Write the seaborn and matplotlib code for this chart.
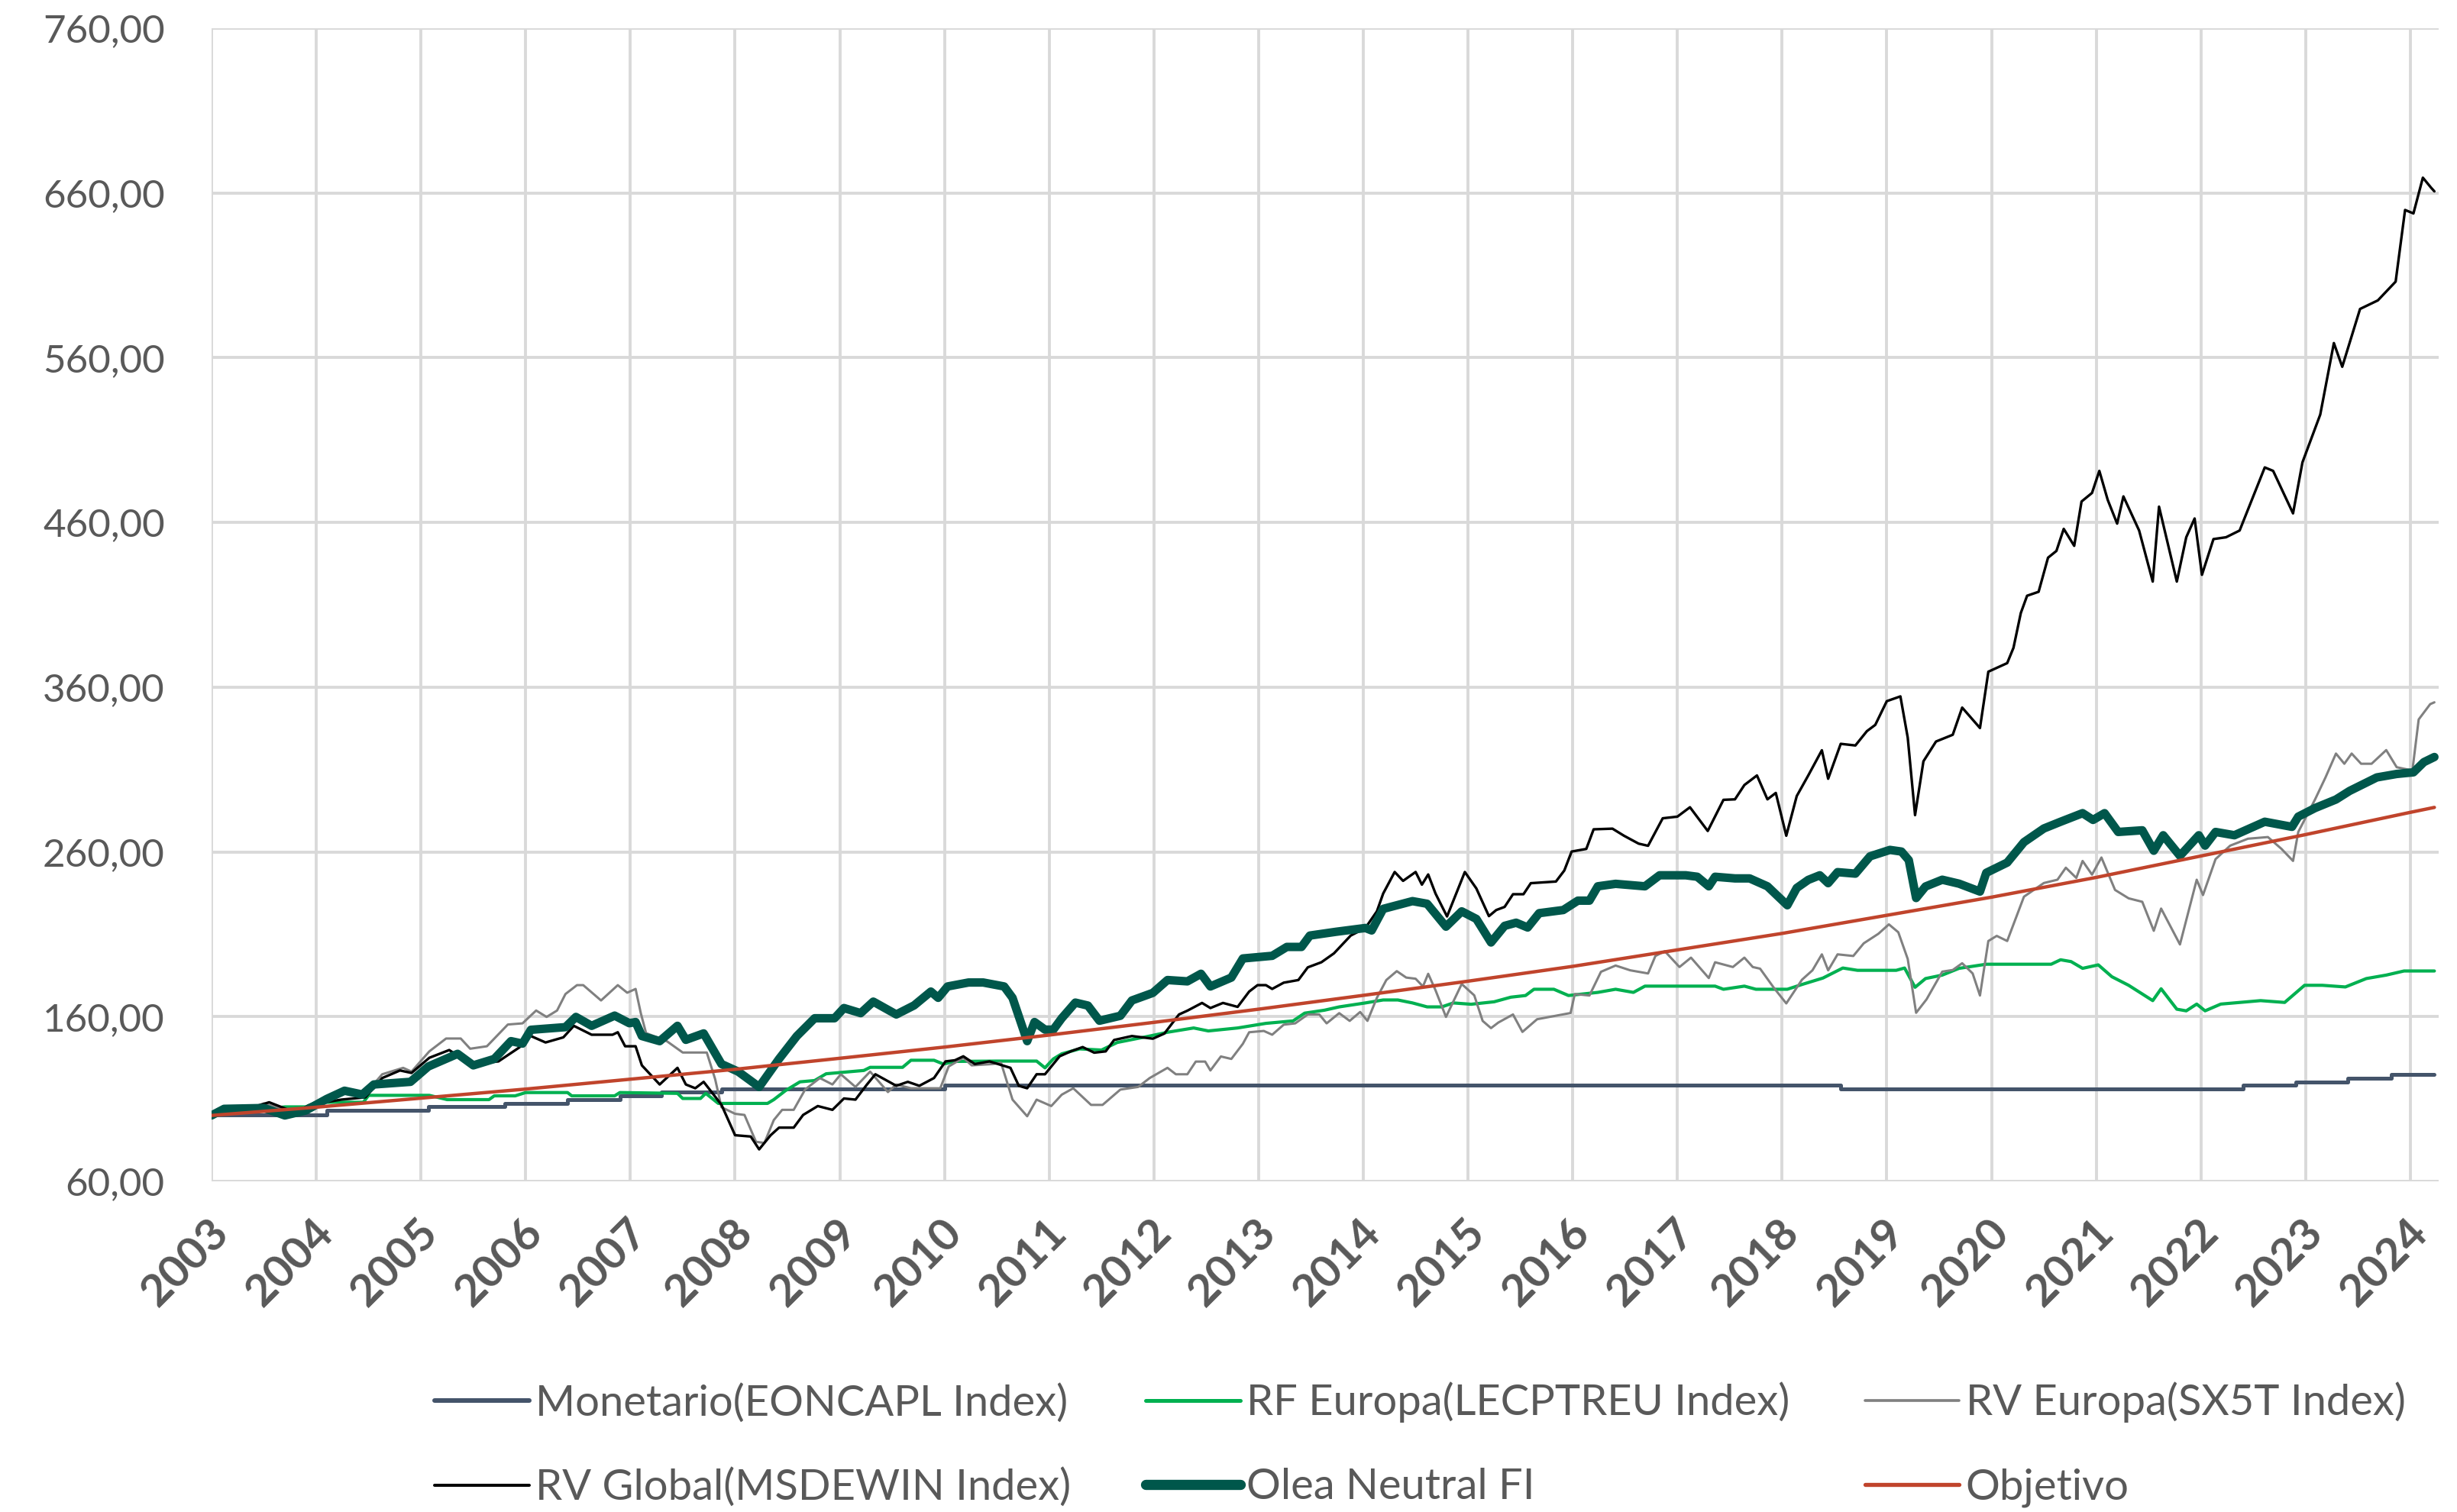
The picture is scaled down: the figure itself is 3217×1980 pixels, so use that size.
import matplotlib
matplotlib.use("Agg")
import matplotlib.pyplot as plt
import matplotlib.transforms as mtransforms
from matplotlib.lines import Line2D
import seaborn as sns

# ---------------- data ----------------
YEARS = list(range(2003, 2025))
Y_TICKS = [60, 160, 260, 360, 460, 560, 660, 760]

LABELS = ["Monetario(EONCAPL Index)", "RF Europa(LECPTREU Index)", "RV Europa(SX5T Index)",
          "RV Global(MSDEWIN Index)", "Olea Neutral FI", "Objetivo"]

MON_X = [2003.0, 2004.1, 2005.07, 2005.8, 2006.4, 2006.9, 2007.3, 2007.87, 2010.0,
         2018.56, 2022.4, 2022.91, 2023.4, 2023.82, 2024.23]
MON_Y = [100.5, 103.1, 105.2, 107.2, 109.6, 111.9, 114.2, 116.0, 118.2,
         116.0, 118.4, 120.4, 122.7, 124.8, 124.8]

RF_X = [2003.0, 2003.4, 2003.7, 2003.9, 2004.0, 2004.45, 2004.5, 2005.08, 2005.25, 2005.65,
        2005.7, 2005.9, 2006.0, 2006.4, 2006.44, 2006.85, 2006.9, 2007.45, 2007.5, 2007.67,
        2007.72, 2007.84, 2008.31, 2008.37, 2008.48, 2008.62, 2008.76, 2008.87, 2009.23, 2009.29,
        2009.6, 2009.68, 2009.9, 2009.99, 2010.1, 2010.5, 2010.88, 2010.96, 2011.04, 2011.12,
        2011.29, 2011.5, 2011.65, 2011.96, 2012.13, 2012.38, 2012.52, 2012.8, 2013.07, 2013.33,
        2013.44, 2013.63, 2013.77, 2014.02, 2014.19, 2014.33, 2014.47, 2014.61, 2014.75, 2014.86,
        2015.03, 2015.25, 2015.41, 2015.55, 2015.63, 2015.82, 2015.96, 2016.24, 2016.41, 2016.58,
        2016.69, 2017.36, 2017.44, 2017.64, 2017.75, 2018.05, 2018.19, 2018.39, 2018.58, 2018.72,
        2019.09, 2019.17, 2019.27, 2019.37, 2019.53, 2019.69, 2019.95, 2020.57, 2020.66, 2020.76,
        2020.87, 2021.02, 2021.15, 2021.31, 2021.54, 2021.62, 2021.77, 2021.86, 2021.96, 2022.04,
        2022.19, 2022.57, 2022.8, 2022.99, 2023.16, 2023.38, 2023.58, 2023.77, 2023.94, 2024.23]
RF_Y = [100.0, 103.0, 105.2, 105.2, 108.0, 108.0, 112.2, 112.2, 109.6, 109.6,
        111.9, 111.9, 113.9, 113.9, 111.9, 111.9, 113.9, 113.4, 110.3, 110.3,
        113.4, 107.3, 107.3, 109.6, 115.0, 120.4, 121.2, 125.3, 127.3, 129.2,
        129.2, 133.5, 133.5, 131.2, 132.8, 133.0, 133.0, 128.9, 134.3, 137.4,
        140.4, 139.7, 144.3, 148.2, 150.5, 153.1, 151.3, 153.1, 155.9, 157.4,
        162.1, 163.9, 165.9, 168.3, 170.1, 170.1, 168.3, 165.9, 165.9, 168.3,
        167.5, 169.0, 171.8, 172.8, 176.6, 176.6, 172.8, 174.7, 176.6, 174.7,
        178.5, 178.5, 176.6, 178.5, 176.6, 176.6, 179.5, 183.4, 189.5, 188.1,
        188.1, 189.5, 177.8, 183.1, 185.2, 189.3, 191.8, 191.8, 194.5, 193.4,
        189.3, 191.4, 184.2, 179.0, 169.7, 176.9, 164.5, 163.5, 167.6, 163.5,
        167.6, 169.7, 168.6, 179.0, 179.0, 178.0, 183.1, 185.2, 187.7, 187.7]

EU_X = [2003.0, 2003.3, 2003.5, 2003.8, 2004.08, 2004.27, 2004.44, 2004.63, 2004.83, 2004.91,
        2005.08, 2005.24, 2005.38, 2005.47, 2005.63, 2005.83, 2005.97, 2006.1, 2006.2, 2006.3,
        2006.38, 2006.49, 2006.55, 2006.72, 2006.88, 2006.97, 2007.05, 2007.1, 2007.15, 2007.35,
        2007.5, 2007.73, 2007.81, 2007.87, 2008.0, 2008.09, 2008.2, 2008.28, 2008.37, 2008.45,
        2008.56, 2008.67, 2008.81, 2008.93, 2009.01, 2009.15, 2009.29, 2009.46, 2009.54, 2009.68,
        2009.96, 2010.04, 2010.18, 2010.26, 2010.46, 2010.54, 2010.65, 2010.79, 2010.88, 2011.02,
        2011.12, 2011.23, 2011.4, 2011.51, 2011.68, 2011.85, 2011.96, 2012.13, 2012.21, 2012.32,
        2012.4, 2012.49, 2012.54, 2012.64, 2012.74, 2012.85, 2012.91, 2013.05, 2013.13, 2013.24,
        2013.35, 2013.47, 2013.58, 2013.65, 2013.77, 2013.87, 2013.97, 2014.04, 2014.13, 2014.22,
        2014.32, 2014.41, 2014.5, 2014.57, 2014.62, 2014.69, 2014.79, 2014.94, 2015.06, 2015.14,
        2015.22, 2015.29, 2015.43, 2015.52, 2015.66, 2015.82, 2015.98, 2016.02, 2016.16, 2016.27,
        2016.41, 2016.55, 2016.72, 2016.79, 2016.88, 2017.02, 2017.13, 2017.3, 2017.36, 2017.53,
        2017.64, 2017.72, 2017.79, 2017.92, 2018.04, 2018.19, 2018.29, 2018.38, 2018.44, 2018.53,
        2018.68, 2018.78, 2018.92, 2019.02, 2019.11, 2019.2, 2019.28, 2019.38, 2019.53, 2019.63,
        2019.72, 2019.82, 2019.89, 2019.97, 2020.05, 2020.15, 2020.31, 2020.5, 2020.63, 2020.71,
        2020.81, 2020.87, 2020.96, 2021.05, 2021.18, 2021.31, 2021.44, 2021.55, 2021.62, 2021.8,
        2021.96, 2022.02, 2022.14, 2022.28, 2022.45, 2022.64, 2022.77, 2022.88, 2022.93, 2023.09,
        2023.19, 2023.29, 2023.37, 2023.44, 2023.53, 2023.63, 2023.77, 2023.87, 2024.02, 2024.08,
        2024.19, 2024.23]
EU_Y = [100.0, 103.0, 107.3, 101.8, 111.0, 116.5, 111.0, 125.0, 128.9, 126.6,
        138.9, 146.7, 146.7, 140.5, 142.0, 155.2, 155.9, 163.7, 159.8, 163.7,
        173.7, 179.1, 179.1, 169.8, 179.1, 174.5, 176.8, 162.0, 150.0, 145.0,
        138.2, 138.2, 122.0, 105.0, 101.0, 100.3, 84.0, 83.3, 97.2, 103.4,
        103.4, 115.8, 122.7, 118.8, 125.0, 117.3, 126.6, 114.2, 118.8, 116.5,
        116.5, 129.7, 135.0, 130.4, 131.2, 132.0, 109.6, 99.5, 109.6, 105.7,
        112.6, 116.5, 106.4, 106.4, 115.7, 117.3, 122.7, 128.9, 125.0, 125.0,
        132.7, 132.7, 127.3, 135.8, 134.3, 143.5, 150.5, 151.3, 149.0, 155.1,
        155.9, 161.3, 161.3, 155.9, 162.1, 157.4, 162.8, 157.4, 171.4, 182.2,
        187.6, 183.7, 183.0, 178.3, 186.0, 176.0, 159.8, 179.8, 172.9, 157.4,
        153.0, 156.4, 161.3, 150.7, 158.4, 160.3, 162.2, 173.7, 172.8, 187.2,
        191.0, 188.1, 186.2, 196.8, 199.7, 190.1, 195.8, 183.4, 193.0, 190.1,
        195.8, 190.1, 189.1, 177.6, 168.0, 182.4, 188.1, 197.8, 188.1, 197.8,
        196.8, 204.5, 210.3, 216.0, 211.2, 195.0, 162.3, 170.5, 187.3, 188.3,
        192.4, 186.2, 172.8, 205.9, 209.0, 205.9, 232.8, 241.1, 243.1, 250.4,
        244.2, 254.5, 246.2, 256.6, 236.9, 231.8, 229.7, 212.1, 225.6, 203.8,
        243.1, 233.8, 255.6, 263.8, 268.0, 269.0, 261.8, 254.5, 272.1, 291.8,
        305.2, 319.7, 313.5, 319.7, 313.5, 313.5, 321.8, 311.4, 309.4, 340.4,
        349.7, 350.8]

GL_X = [2003.0, 2003.3, 2003.55, 2003.8, 2003.94, 2004.24, 2004.47, 2004.63, 2004.8, 2004.91,
        2005.08, 2005.27, 2005.47, 2005.74, 2005.94, 2006.05, 2006.19, 2006.36, 2006.46, 2006.63,
        2006.83, 2006.88, 2006.95, 2007.05, 2007.11, 2007.28, 2007.45, 2007.53, 2007.62, 2007.7,
        2007.87, 2008.0, 2008.15, 2008.23, 2008.34, 2008.42, 2008.56, 2008.65, 2008.79, 2008.93,
        2009.04, 2009.15, 2009.26, 2009.34, 2009.54, 2009.65, 2009.76, 2009.9, 2010.01, 2010.1,
        2010.18, 2010.29, 2010.43, 2010.63, 2010.71, 2010.79, 2010.88, 2010.96, 2011.1, 2011.21,
        2011.32, 2011.43, 2011.54, 2011.62, 2011.79, 2011.99, 2012.1, 2012.24, 2012.32, 2012.46,
        2012.54, 2012.66, 2012.8, 2012.91, 2012.99, 2013.07, 2013.13, 2013.24, 2013.38, 2013.47,
        2013.6, 2013.72, 2013.88, 2014.02, 2014.13, 2014.19, 2014.3, 2014.38, 2014.5, 2014.56,
        2014.62, 2014.69, 2014.8, 2014.97, 2015.08, 2015.2, 2015.27, 2015.35, 2015.43, 2015.53,
        2015.6, 2015.84, 2015.92, 2015.99, 2016.13, 2016.2, 2016.38, 2016.49, 2016.63, 2016.72,
        2016.86, 2017.0, 2017.12, 2017.29, 2017.44, 2017.55, 2017.64, 2017.76, 2017.86, 2017.94,
        2018.04, 2018.14, 2018.25, 2018.38, 2018.44, 2018.56, 2018.7, 2018.81, 2018.89, 2019.0,
        2019.13, 2019.2, 2019.27, 2019.35, 2019.47, 2019.63, 2019.72, 2019.89, 2019.97, 2020.15,
        2020.21, 2020.28, 2020.34, 2020.45, 2020.54, 2020.62, 2020.69, 2020.79, 2020.86, 2020.96,
        2021.03, 2021.11, 2021.2, 2021.26, 2021.41, 2021.54, 2021.6, 2021.77, 2021.86, 2021.94,
        2022.01, 2022.12, 2022.24, 2022.37, 2022.61, 2022.69, 2022.88, 2022.97, 2023.14, 2023.27,
        2023.35, 2023.52, 2023.69, 2023.86, 2023.95, 2024.03, 2024.12, 2024.2, 2024.23]
GL_Y = [100.0, 103.0, 108.0, 101.8, 106.5, 109.6, 111.0, 122.7, 127.3, 125.8,
        135.0, 139.7, 131.2, 132.8, 141.3, 148.2, 144.3, 147.4, 154.4, 149.0,
        149.0, 150.5, 142.0, 142.0, 130.4, 118.8, 128.9, 118.8, 116.5, 120.4,
        106.5, 88.0, 87.2, 79.4, 88.0, 92.6, 92.6, 100.3, 105.7, 103.4,
        110.3, 109.6, 118.8, 125.0, 118.0, 120.4, 118.0, 122.7, 132.8, 133.5,
        135.9, 131.2, 132.8, 128.9, 118.0, 116.5, 125.0, 125.0, 135.9, 139.0,
        141.5, 138.1, 138.9, 145.8, 148.2, 146.6, 149.7, 161.3, 163.6, 168.3,
        165.2, 168.3, 165.9, 175.2, 179.1, 179.1, 176.8, 180.6, 182.2, 189.9,
        193.0, 198.4, 209.2, 213.8, 223.9, 234.7, 247.8, 242.4, 247.8, 240.1,
        246.3, 234.7, 220.8, 247.8, 237.8, 221.0, 224.7, 226.6, 234.3, 234.3,
        241.0, 242.0, 248.7, 260.2, 261.8, 273.7, 274.1, 269.8, 265.0, 263.7,
        280.4, 281.4, 287.1, 272.7, 291.6, 291.9, 300.6, 306.4, 291.9, 295.8,
        269.8, 293.9, 306.4, 321.7, 304.4, 325.6, 324.6, 333.3, 337.1, 351.5,
        354.4, 329.4, 282.3, 315.0, 327.0, 331.1, 347.6, 335.2, 369.4, 374.6,
        383.9, 405.0, 415.5, 417.9, 438.6, 442.7, 456.1, 445.8, 472.7, 477.9,
        491.3, 473.7, 459.3, 475.8, 455.1, 424.1, 469.6, 424.1, 451.0, 462.4,
        428.2, 449.9, 451.0, 455.1, 493.4, 491.3, 465.5, 496.5, 525.5, 568.9,
        554.5, 589.6, 594.8, 606.2, 649.7, 647.6, 669.3, 663.1, 661.0]

OL_X = [2003.0, 2003.12, 2003.5, 2003.7, 2003.9, 2004.1, 2004.27, 2004.44, 2004.55, 2004.9,
        2005.07, 2005.35, 2005.5, 2005.7, 2005.86, 2005.97, 2006.05, 2006.38, 2006.48, 2006.63,
        2006.85, 2006.99, 2007.05, 2007.11, 2007.28, 2007.45, 2007.53, 2007.7, 2007.87, 2008.03,
        2008.23, 2008.42, 2008.59, 2008.76, 2008.95, 2009.04, 2009.2, 2009.32, 2009.54, 2009.71,
        2009.87, 2009.94, 2010.03, 2010.23, 2010.37, 2010.57, 2010.65, 2010.79, 2010.86, 2010.96,
        2011.04, 2011.12, 2011.25, 2011.37, 2011.48, 2011.68, 2011.79, 2011.99, 2012.13, 2012.32,
        2012.45, 2012.54, 2012.74, 2012.85, 2013.13, 2013.27, 2013.41, 2013.49, 2013.74, 2014.02,
        2014.08, 2014.19, 2014.47, 2014.61, 2014.69, 2014.79, 2014.94, 2015.08, 2015.22, 2015.35,
        2015.46, 2015.57, 2015.68, 2015.91, 2016.05, 2016.16, 2016.24, 2016.41, 2016.69, 2016.83,
        2017.08, 2017.19, 2017.3, 2017.36, 2017.55, 2017.69, 2017.86, 2018.05, 2018.14, 2018.25,
        2018.36, 2018.44, 2018.53, 2018.7, 2018.84, 2019.03, 2019.14, 2019.21, 2019.28, 2019.37,
        2019.53, 2019.69, 2019.89, 2019.95, 2020.15, 2020.31, 2020.5, 2020.66, 2020.87, 2020.97,
        2021.08, 2021.21, 2021.44, 2021.55, 2021.64, 2021.8, 2021.98, 2022.04, 2022.14, 2022.32,
        2022.61, 2022.87, 2022.93, 2023.09, 2023.29, 2023.42, 2023.68, 2023.87, 2024.03, 2024.13,
        2024.23]
OL_Y = [100.0, 104.0, 104.5, 100.0, 103.0, 110.0, 115.0, 112.7, 118.8, 120.4,
        129.7, 137.4, 130.4, 134.3, 145.1, 143.6, 152.0, 153.6, 159.8, 154.4,
        160.6, 156.0, 156.7, 148.2, 145.1, 154.4, 145.9, 149.8, 131.2, 126.6,
        117.3, 134.3, 148.2, 159.0, 159.0, 165.2, 162.1, 169.1, 161.3, 166.8,
        175.2, 171.4, 178.3, 180.7, 180.7, 178.3, 171.4, 145.1, 156.7, 152.1,
        152.1, 159.0, 168.5, 166.7, 157.5, 160.5, 169.8, 174.4, 182.2, 181.4,
        186.0, 178.3, 183.7, 195.3, 196.9, 202.3, 202.3, 209.2, 211.5, 213.8,
        212.3, 225.4, 230.1, 228.5, 222.3, 214.6, 223.9, 219.3, 205.0, 215.1,
        217.0, 214.1, 222.8, 224.7, 230.4, 230.4, 239.1, 240.6, 239.1, 245.8,
        245.8, 244.9, 239.1, 244.9, 243.9, 243.9, 239.1, 227.6, 238.1, 243.0,
        245.8, 241.0, 247.7, 246.8, 257.3, 261.2, 260.2, 255.0, 232.0, 239.0,
        243.1, 240.7, 235.9, 247.3, 253.5, 265.9, 274.2, 278.3, 283.5, 279.4,
        283.5, 272.1, 273.1, 260.7, 270.1, 257.6, 270.1, 263.8, 272.1, 270.1,
        278.3, 275.2, 281.4, 286.6, 291.8, 297.0, 305.2, 307.3, 308.3, 314.5,
        317.6]

OBJ_X = [2003.0, 2004.0, 2005.0, 2006.0, 2007.0, 2008.0, 2009.0, 2010.0, 2011.0, 2012.0,
         2013.0, 2014.0, 2015.0, 2016.0, 2017.0, 2018.0, 2019.0, 2020.0, 2021.0, 2022.0,
         2023.0, 2024.0, 2024.23]
OBJ_Y = [100.0, 105.0, 110.5, 116.0, 122.0, 128.0, 134.7, 141.5, 148.8, 156.5,
         164.5, 172.9, 181.5, 190.5, 200.5, 210.5, 221.5, 232.5, 244.5, 257.5,
         270.5, 284.0, 287.0]

COLORS = ["#44546A", "#00B050", "#808080", "#000000", "#00574B", "#C0442C"]
WIDTHS = [1.8, 1.5, 1.1, 1.2, 4.0, 1.6]

# ---------------- styling ----------------
sns.set_theme(style="whitegrid")
plt.rcParams["font.family"] = ["Lato", "DejaVu Sans"]
TXT = "#595959"
GRID = "#D9D9D9"

DPI = 200
fig = plt.figure(figsize=(3217 / DPI, 1980 / DPI), dpi=DPI)
fig.patch.set_facecolor("white")
ax = fig.add_axes([0.0861, 0.2187, 0.9064, 0.7626])
ax.set_facecolor("white")

data = [(MON_X, MON_Y), (RF_X, RF_Y), (EU_X, EU_Y), (GL_X, GL_Y), (OL_X, OL_Y), (OBJ_X, OBJ_Y)]
for i, (xs, ys) in enumerate(data):
    kw = {}
    if i == 0:
        kw["drawstyle"] = "steps-post"
    sns.lineplot(x=xs, y=ys, ax=ax, color=COLORS[i], linewidth=WIDTHS[i],
                 legend=False, estimator=None, sort=False, zorder=3 + i, **kw)

ax.set_xlim(2003, 2024.27)
ax.set_ylim(60, 760)
ax.set_yticks(Y_TICKS)
ax.set_yticklabels([f"{v:.2f}".replace(".", ",") for v in Y_TICKS])
ax.set_xticks(YEARS)
ax.set_xticklabels([str(y) for y in YEARS])
ax.grid(True, color=GRID, linewidth=1.4)
ax.set_axisbelow(True)
for s in ax.spines.values():
    s.set_visible(False)
ax.tick_params(axis="both", length=0)
ax.tick_params(axis="y", pad=22, labelsize=18.4, labelcolor=TXT)
ax.tick_params(axis="x", pad=21, labelsize=21, labelcolor=TXT)
ax.set_xlabel("")
ax.set_ylabel("")

offset = mtransforms.ScaledTranslation(14 / DPI, 0, fig.dpi_scale_trans)
for lab in ax.get_xticklabels():
    lab.set_rotation(45)
    lab.set_rotation_mode("anchor")
    lab.set_ha("right")
    lab.set_va("center")
    lab.set_fontweight("bold")
    lab.set_transform(lab.get_transform() + offset)

# legend (column-major order so rows read like the reference)
order = [0, 3, 1, 4, 2, 5]
handles = [Line2D([0], [0], color=COLORS[i], linewidth=WIDTHS[i] * 1.2) for i in order]
labels = [LABELS[i] for i in order]
leg = fig.legend(handles, labels, ncol=3, loc="center", bbox_to_anchor=(0.578, 0.0445),
                 frameon=False, fontsize=20.2, handlelength=2.2, handletextpad=0.15,
                 columnspacing=1.75, labelspacing=1.05, borderpad=0)
for t in leg.get_texts():
    t.set_color(TXT)

fig.savefig("out.png", dpi=DPI, facecolor="white")
